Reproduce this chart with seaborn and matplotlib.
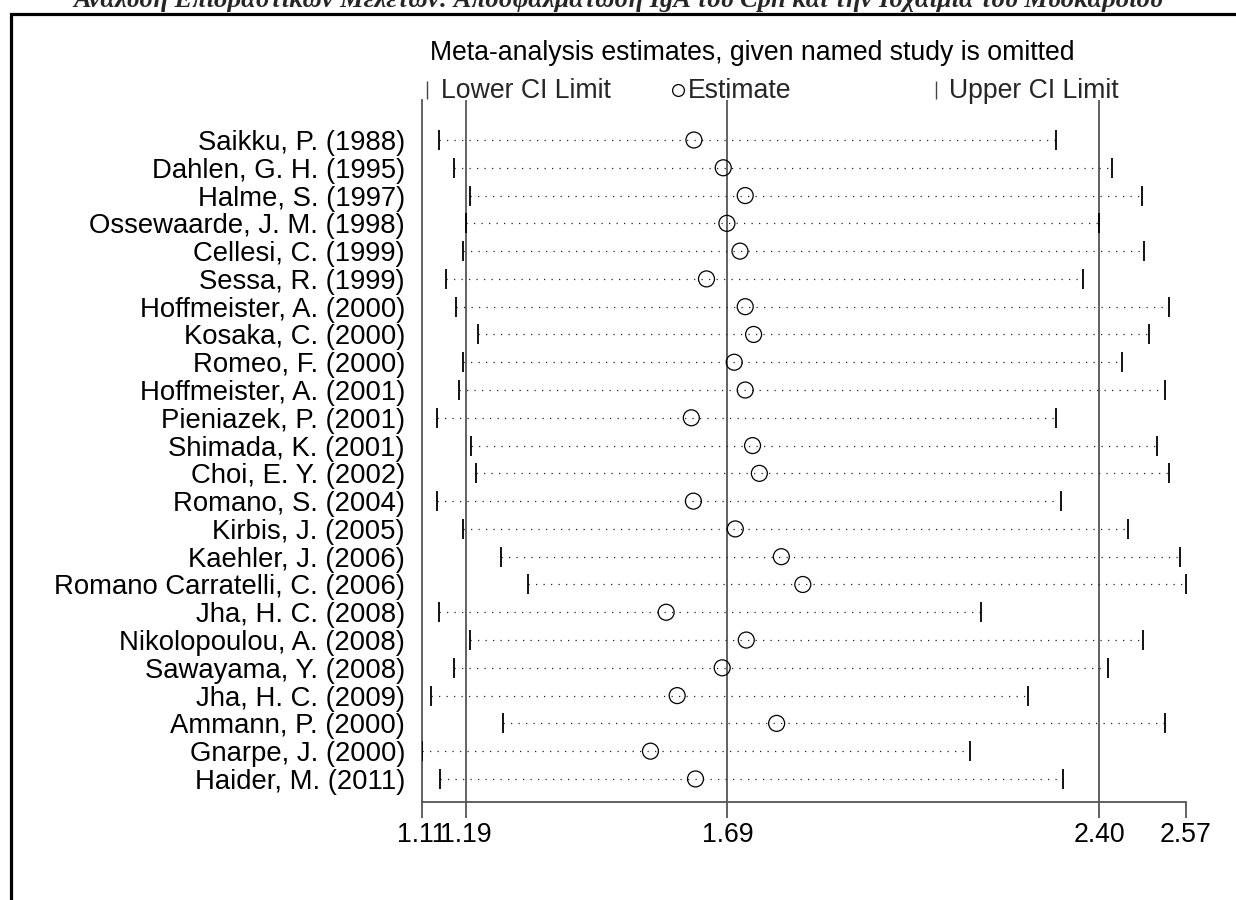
import numpy as np
import matplotlib
matplotlib.use("Agg")
import matplotlib.pyplot as plt
import seaborn as sns
from matplotlib.patches import Rectangle
from matplotlib.lines import Line2D

studies = [
    "Saikku, P. (1988)", "Dahlen, G. H. (1995)", "Halme, S. (1997)",
    "Ossewaarde, J. M. (1998)", "Cellesi, C. (1999)", "Sessa, R. (1999)",
    "Hoffmeister, A. (2000)", "Kosaka, C. (2000)", "Romeo, F. (2000)",
    "Hoffmeister, A. (2001)", "Pieniazek, P. (2001)", "Shimada, K. (2001)",
    "Choi, E. Y. (2002)", "Romano, S. (2004)", "Kirbis, J. (2005)",
    "Kaehler, J. (2006)", "Romano Carratelli, C. (2006)", "Jha, H. C. (2008)",
    "Nikolopoulou, A. (2008)", "Sawayama, Y. (2008)", "Jha, H. C. (2009)",
    "Ammann, P. (2000)", "Gnarpe, J. (2000)", "Haider, M. (2011)",
]
lower = [1.140, 1.168, 1.198, 1.190, 1.184, 1.152, 1.172, 1.214, 1.185, 1.177,
         1.135, 1.200, 1.210, 1.136, 1.185, 1.257, 1.310, 1.139, 1.199, 1.168,
         1.123, 1.261, 1.106, 1.141]
estimate = [1.626, 1.682, 1.724, 1.689, 1.714, 1.650, 1.724, 1.740, 1.703, 1.724,
            1.621, 1.738, 1.751, 1.625, 1.705, 1.793, 1.834, 1.573, 1.726, 1.680,
            1.594, 1.784, 1.543, 1.629]
upper = [2.318, 2.424, 2.481, 2.399, 2.485, 2.370, 2.534, 2.496, 2.444, 2.525,
         2.318, 2.510, 2.533, 2.327, 2.455, 2.554, 2.566, 2.174, 2.484, 2.417,
         2.264, 2.525, 2.153, 2.331]
overall = [1.19, 1.69, 2.40]  # lower CI, estimate, upper CI of full meta-analysis

title_gr = "Ανάλυση Επιδραστικών Μελετών: Αποσφαλμάτωση IgA του Cpn και την Ισχαιμία του Μυοκαρδίου"
subtitle = "Meta-analysis estimates, given named study is omitted"
legend_labels = ["Lower CI Limit", "Estimate", "Upper CI Limit"]

sns.set_theme(style="white")
plt.rcParams["font.family"] = ["Liberation Sans", "DejaVu Sans"]

W, H = 1236, 900
fig = plt.figure(figsize=(W / 100, H / 100), dpi=100)
fig.patch.set_facecolor("white")

ax_left, ax_right, ax_top, ax_bot = 421.7, 1186.0, 100.0, 802.0
ax = fig.add_axes([ax_left / W, 1 - ax_bot / H, (ax_right - ax_left) / W, (ax_bot - ax_top) / H])
ax.set_facecolor("white")

n = len(studies)
ypos = np.arange(n)

gray = "#555555"
for v in overall:
    ax.axvline(v, color=gray, lw=1.3, zorder=1)

ax.hlines(ypos, lower, upper, colors="#222222", linestyles=(0, (1, 5)), lw=0.9, zorder=2)

sns.scatterplot(x=lower, y=ypos, marker="|", s=225, color="black", linewidth=1.3, ax=ax, zorder=3, legend=False)
sns.scatterplot(x=upper, y=ypos, marker="|", s=225, color="black", linewidth=1.3, ax=ax, zorder=3, legend=False)
sns.scatterplot(x=estimate, y=ypos, marker="o", s=132, facecolor="none", edgecolor="black",
                linewidth=0.9, ax=ax, zorder=4, legend=False)

xmin, xmax = min(lower), max(upper)
ax.set_xlim(xmin, xmax)
ax.set_ylim(n - 1 + 0.83, -1.44)

ticks = [xmin] + overall + [xmax]
ax.set_xticks(ticks)
ax.set_xticklabels([f"{t:.2f}" for t in ticks], fontsize=19.2, color="black")
ax.tick_params(axis="x", length=11.5, width=1.3, color=gray, pad=3, direction="out", bottom=True)
ax.set_yticks(ypos)
ax.set_yticklabels(studies, fontsize=19.8, color="black")
ax.tick_params(axis="y", length=0, pad=12)
for s in ["top", "right"]:
    ax.spines[s].set_visible(False)
for s in ["left", "bottom"]:
    ax.spines[s].set_color(gray)
    ax.spines[s].set_linewidth(1.3)
ax.set_xlabel("")
ax.set_ylabel("")

# subtitle and legend
fig.text(430 / W, 1 - 59.5 / H, subtitle, fontsize=19.2, ha="left", va="baseline", color="black")
leg_y = 1 - 90 / H
leg_base = 1 - 97.5 / H
fig.add_artist(Line2D([427 / W], [leg_y], marker="|", markersize=13, mew=1.0, color="#444444",
                      transform=fig.transFigure, ls="none"))
fig.text(441 / W, leg_base, legend_labels[0], fontsize=19.2, ha="left", va="baseline")
fig.add_artist(Line2D([678 / W], [leg_y], marker="o", markersize=8.5, mew=0.9, mfc="none", mec="black",
                      transform=fig.transFigure, ls="none"))
fig.text(688 / W, leg_base, legend_labels[1], fontsize=19.2, ha="left", va="baseline")
fig.add_artist(Line2D([936 / W], [leg_y], marker="|", markersize=13, mew=1.0, color="#444444",
                      transform=fig.transFigure, ls="none"))
fig.text(949 / W, leg_base, legend_labels[2], fontsize=19.2, ha="left", va="baseline")

# Greek header (partly cut at top) and outer frame
fig.text(0.5, 1 - 7 / H, title_gr, fontsize=19, ha="center", va="baseline",
         family=["Liberation Serif", "DejaVu Serif"], weight="bold", style="italic")
fig.add_artist(Rectangle((11 / W, -0.05), 1.2, 1 - 13.5 / H + 0.05, transform=fig.transFigure,
                         fill=False, lw=2.3, ec="black"))

fig.savefig("out.png", dpi=100, facecolor="white")
